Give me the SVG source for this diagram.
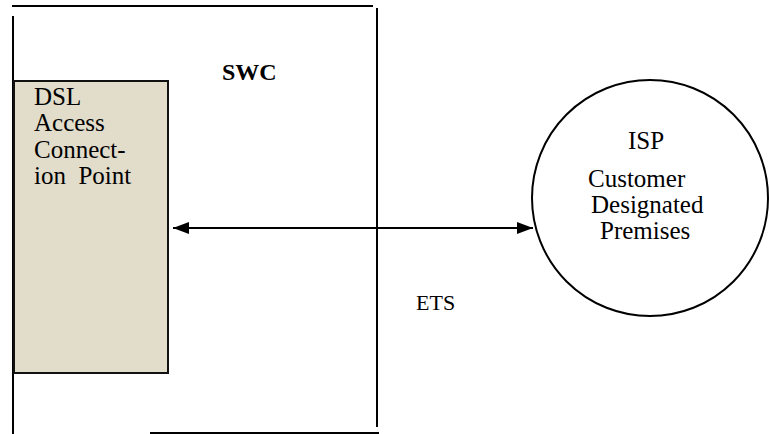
<svg xmlns="http://www.w3.org/2000/svg" width="770" height="434" viewBox="0 0 770 434">
<style>
text{font-family:'Liberation Serif','Times New Roman',Times,serif;font-size:25px;fill:#000}
.b{font-weight:bold;font-size:24px}
.s{font-size:22px}
.ln{stroke:#000;stroke-width:2;fill:none}
</style>
<defs>
<marker id="ah" viewBox="0 0 16 12" refX="16" refY="6" markerWidth="16" markerHeight="12" markerUnits="userSpaceOnUse" orient="auto-start-reverse">
<path d="M0,0 L16,6 L0,12 Z" fill="#000"/>
</marker>
</defs>
<rect width="770" height="434" fill="#fff"/>
<g id="swc">
<line class="ln" x1="12" y1="6" x2="373" y2="6"/>
<line class="ln" x1="13" y1="16" x2="13" y2="434"/>
<line class="ln" x1="377" y1="8" x2="377" y2="427"/>
<line class="ln" x1="150" y1="433" x2="379" y2="433"/>
<text class="b" x="222" y="80">SWC</text>
</g>
<g id="dsl">
<rect x="14" y="81" width="154" height="292" fill="#e2dccb" stroke="#111" stroke-width="2"/>
<text x="34" y="105">DSL</text>
<text x="34" y="131">Access</text>
<text x="34" y="158">Connect-</text>
<text x="34" y="184" xml:space="preserve">ion  Point</text>
</g>
<g id="isp">
<circle cx="650" cy="198" r="118" fill="#fff" stroke="#000" stroke-width="2"/>
<text x="628" y="149">ISP</text>
<text x="588" y="187">Customer</text>
<text x="591" y="213">Designated</text>
<text x="600" y="239">Premises</text>
</g>
<g id="connectors">
<line class="ln" x1="173" y1="228" x2="533" y2="228" marker-start="url(#ah)" marker-end="url(#ah)"/>
<text class="s" x="416" y="310">ETS</text>
</g>
</svg>
